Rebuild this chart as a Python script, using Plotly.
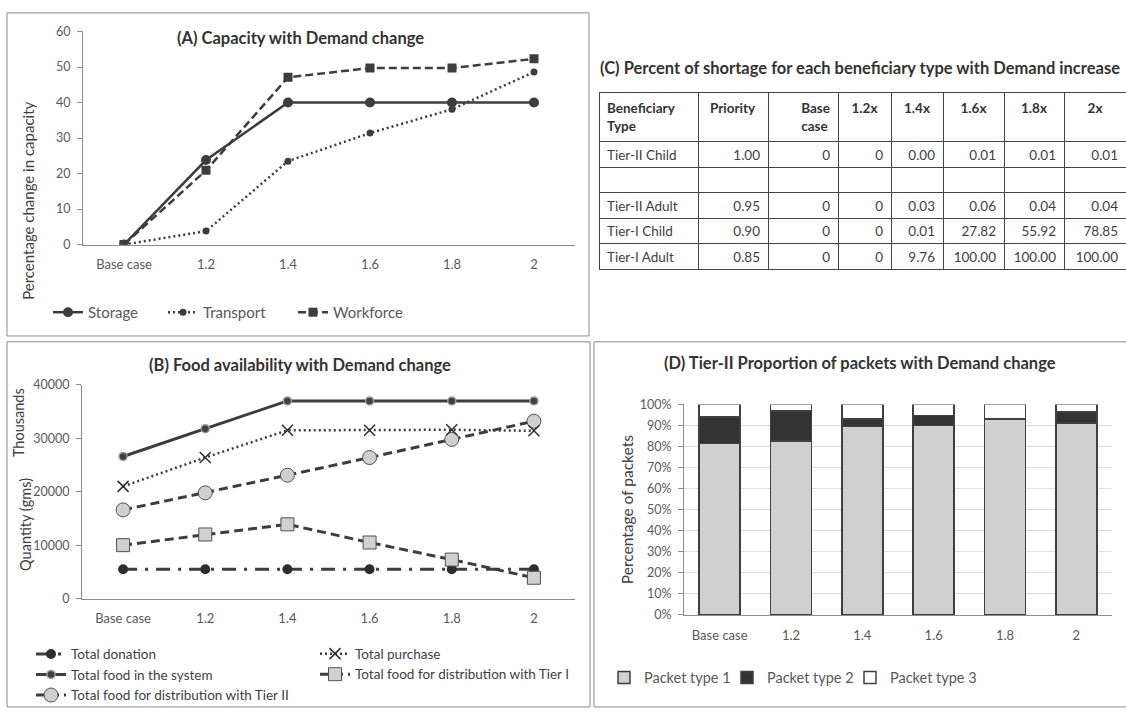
import plotly.graph_objects as go

W, H = 1126, 712


def px(x):
    return x / W


def py(y):
    return 1 - y / H


# ---------------- data ----------------
categories = ["Base case", "1.2", "1.4", "1.6", "1.8", "2"]

# (A) percentage change in capacity
storage = [0, 23.8, 40, 40, 40, 40]
transport = [0, 3.8, 23.5, 31.4, 38.1, 48.6]
workforce = [0, 20.9, 47.1, 49.7, 49.7, 52.3]

# (B) quantity (gms, thousands)
total_donation = [5500, 5500, 5500, 5500, 5500, 5500]
total_purchase = [21000, 26400, 31500, 31500, 31600, 31400]
total_food = [26600, 31800, 37000, 37000, 37000, 37000]
tier1_food = [10000, 12000, 13900, 10500, 7300, 3900]
tier2_food = [16600, 19800, 23100, 26400, 29800, 33200]

# (D) Tier-II proportion of packets (%)
packet1 = [81.5, 82.7, 89.5, 90.0, 93.0, 91.2]
packet2 = [12.5, 14.2, 3.5, 4.7, 0.4, 5.2]
packet3 = [6.0, 3.1, 7.0, 5.3, 6.6, 3.6]

# (C) percent of shortage table
table_header = ["Beneficiary<br>Type", "Priority", "Base<br>case", "1.2x", "1.4x", "1.6x", "1.8x", "2x"]
beneficiary = ["Tier-II Child", "", "Tier-II Adult", "Tier-I Child", "Tier-I Adult"]
priority = [1.00, None, 0.95, 0.90, 0.85]
short_base = [0, None, 0, 0, 0]
short_12 = [0, None, 0, 0, 0]
short_14 = [0.00, None, 0.03, 0.01, 9.76]
short_16 = [0.01, None, 0.06, 27.82, 100.00]
short_18 = [0.01, None, 0.04, 55.92, 100.00]
short_20 = [0.01, None, 0.04, 78.85, 100.00]

# ---------------- styles ----------------
FONT = "Lato"
DARK = "#3d3d3d"
LIGHT = "#d0d0d0"
AXIS = "#8c8c8c"
TICK = "#595959"
TXT = "#404040"

fig = go.Figure()

# ---- panel A ----
fig.add_trace(go.Scatter(x=categories, y=storage, name="Storage", mode="lines+markers",
                         line=dict(color=DARK, width=2.5),
                         marker=dict(symbol="circle", size=10, color=DARK),
                         xaxis="x", yaxis="y", legend="legend", legendwidth=70))
fig.add_trace(go.Scatter(x=categories, y=transport, name="Transport", mode="lines+markers",
                         line=dict(color=DARK, width=2.5, dash="2px,3px"),
                         marker=dict(symbol="circle", size=7, color=DARK),
                         xaxis="x", yaxis="y", legend="legend", legendwidth=85))
fig.add_trace(go.Scatter(x=categories, y=workforce, name="Workforce", mode="lines+markers",
                         line=dict(color=DARK, width=2.5, dash="8px,4px"),
                         marker=dict(symbol="square", size=9, color=DARK),
                         xaxis="x", yaxis="y", legend="legend", legendwidth=90))

# ---- panel B ----
fig.add_trace(go.Scatter(x=categories, y=total_donation, name="Total donation", mode="lines+markers",
                         line=dict(color=DARK, width=3, dash="14px,8px,3px,8px"),
                         marker=dict(symbol="circle", size=10, color="#2e2e2e"),
                         xaxis="x2", yaxis="y2", legend="legend2"))
fig.add_trace(go.Scatter(x=categories, y=total_food, name="Total food in the system", mode="lines+markers",
                         line=dict(color=DARK, width=3),
                         marker=dict(symbol="circle", size=8, color="#404040",
                                     line=dict(color="#9a9a9a", width=1.5)),
                         xaxis="x2", yaxis="y2", legend="legend2"))
fig.add_trace(go.Scatter(x=categories, y=tier2_food, name="Total food for distribution with Tier II",
                         mode="lines+markers",
                         line=dict(color=DARK, width=3, dash="9px,5px"),
                         marker=dict(symbol="circle", size=14, color=LIGHT,
                                     line=dict(color="#505050", width=1)),
                         xaxis="x2", yaxis="y2", legend="legend2"))
fig.add_trace(go.Scatter(x=categories, y=total_purchase, name="Total purchase", mode="lines+markers",
                         line=dict(color=DARK, width=2.5, dash="2px,3px"),
                         marker=dict(symbol="x-thin", size=11, color="#2e2e2e",
                                     line=dict(color="#2e2e2e", width=1.5)),
                         xaxis="x2", yaxis="y2", legend="legend3"))
fig.add_trace(go.Scatter(x=categories, y=tier1_food, name="Total food for distribution with Tier I",
                         mode="lines+markers",
                         line=dict(color=DARK, width=3, dash="9px,5px"),
                         marker=dict(symbol="square", size=13, color=LIGHT,
                                     line=dict(color="#505050", width=1)),
                         xaxis="x2", yaxis="y2", legend="legend3"))

# ---- panel D ----
for vals, nm, col, lw in [(packet1, "Packet type 1", LIGHT, 78),
                          (packet2, "Packet type 2", "#333333", 78),
                          (packet3, "Packet type 3", "#ffffff", 100)]:
    fig.add_trace(go.Bar(x=categories, y=vals, name=nm,
                         marker=dict(color=col, line=dict(color="#404040", width=1.5)),
                         xaxis="x3", yaxis="y3", legend="legend4", legendwidth=lw))


# ---- panel C table ----
def fmt(vals, f):
    return ["" if v is None else format(v, f) for v in vals]


cell_values = [beneficiary, fmt(priority, ".2f"), fmt(short_base, "d"), fmt(short_12, "d"),
               fmt(short_14, ".2f"), fmt(short_16, ".2f"), fmt(short_18, ".2f"), fmt(short_20, ".2f")]
header_vals = ["<br>".join("<b>%s</b>" % p for p in h.split("<br>")) for h in table_header]

fig.add_trace(go.Table(
    domain=dict(x=[px(599), 1.0], y=[py(300), py(86)]),
    columnwidth=[99, 70, 70, 53, 52, 61, 60, 62],
    header=dict(values=header_vals, height=49,
                align=["left", "center", "right", "center", "center", "center", "center", "center"],
                fill_color="white", line=dict(color="#444444", width=1),
                font=dict(family=FONT, size=13.5, color="#333333")),
    cells=dict(values=cell_values, height=25.5,
               align=["left", "right", "right", "right", "right", "right", "right", "right"],
               fill_color="white", line=dict(color="#444444", width=1),
               font=dict(family=FONT, size=13.5, color=TXT)),
))

# ---------------- axes ----------------
tickfont = dict(family=FONT, size=12.5, color=TICK)
xtickfont = dict(family=FONT, size=13, color=TICK)
xcommon = dict(type="category", range=[-0.5, 5.5], showline=True, linecolor=AXIS, linewidth=1,
               ticks="", showgrid=False, zeroline=False, tickfont=xtickfont, ticklabelstandoff=8,
               fixedrange=True)
ycommon = dict(showline=True, linecolor=AXIS, linewidth=1, ticks="outside", ticklen=5,
               tickcolor=AXIS, zeroline=False, tickfont=tickfont, ticklabelstandoff=4,
               fixedrange=True)

fig.update_layout(
    xaxis=dict(domain=[px(83), px(575)], anchor="y", **xcommon),
    yaxis=dict(domain=[py(241.7), py(24)], anchor="x", range=[0, 60], dtick=10,
               showgrid=False, **ycommon),
    xaxis2=dict(domain=[px(82), px(575)], anchor="y2", **xcommon),
    yaxis2=dict(domain=[py(603.3), py(385)], anchor="x2", range=[0, 40000], dtick=10000,
                tickformat="d", showgrid=False, **ycommon),
    xaxis3=dict(domain=[px(684), px(1112)], anchor="y3", **xcommon),
    yaxis3=dict(domain=[py(620), py(405)], anchor="x3", range=[0, 100], dtick=10,
                ticksuffix="%", showgrid=True, gridcolor="#dedede", gridwidth=1, **ycommon),
    barmode="stack",
    bargap=0.425,
)

# ---------------- legends ----------------
fig.update_layout(
    legend=dict(orientation="h", x=px(48), y=py(311), xanchor="left", yanchor="middle",
                font=dict(family=FONT, size=15, color=TICK), bgcolor="rgba(0,0,0,0)",
                traceorder="normal"),
    legend2=dict(orientation="v", x=px(31), y=py(681), xanchor="left", yanchor="middle",
                 font=dict(family=FONT, size=13.5, color=TXT), bgcolor="rgba(0,0,0,0)",
                 traceorder="normal"),
    legend3=dict(orientation="v", x=px(315), y=py(670.5), xanchor="left", yanchor="middle",
                 font=dict(family=FONT, size=13.5, color=TXT), bgcolor="rgba(0,0,0,0)",
                 traceorder="normal"),
    legend4=dict(orientation="h", x=px(604), y=py(684), xanchor="left", yanchor="middle",
                 font=dict(family=FONT, size=14.5, color=TICK), bgcolor="rgba(0,0,0,0)",
                 traceorder="normal"),
)

# ---------------- titles / axis titles ----------------
ann = []


def add_text(x, y, text, size, color, bold=False, angle=0, xanchor="center"):
    ann.append(dict(x=px(x), y=py(y), xref="paper", yref="paper", showarrow=False,
                    text=("<b>%s</b>" % text) if bold else text, textangle=angle,
                    xanchor=xanchor, yanchor="middle",
                    font=dict(family=FONT, size=size, color=color)))


add_text(300, 31, "(A) Capacity with Demand change", 16.5, "#333333", bold=True)
add_text(300, 365, "(B) Food availability with Demand change", 16.5, "#333333", bold=True)
add_text(598, 61, "(C) Percent of shortage for each beneficiary type with Demand increase", 16.5,
         "#333333", bold=True, xanchor="left")
add_text(860, 363, "(D) Tier-II Proportion of packets with Demand change", 16.5, "#333333", bold=True)
add_text(28, 197, "Percentage change in capacity", 15, TXT, angle=-90)
add_text(18, 424, "Thousands", 14.5, TXT, angle=-90)
add_text(26, 528, "Quantity (gms)", 14.5, TXT, angle=-90)
add_text(627, 513, "Percentage of packets", 15.5, TXT, angle=-90)

# panel frames
shapes = []
for x0, y0, x1, y1 in [(7, 5, 589, 335), (7, 341, 590, 714), (594, 341, 1130, 714)]:
    shapes.append(dict(type="rect", xref="paper", yref="paper",
                       x0=px(x0), x1=px(x1), y0=py(y1), y1=py(y0),
                       line=dict(color="#8a8a8a", width=1), fillcolor="rgba(0,0,0,0)"))

fig.update_layout(
    annotations=ann, shapes=shapes,
    width=W, height=H, autosize=False,
    margin=dict(l=0, r=0, t=0, b=0, pad=0),
    paper_bgcolor="white", plot_bgcolor="white",
    showlegend=True,
)

fig.write_html("out.html", config={"displayModeBar": False},
               post_script="document.body.style.margin='0px';document.body.style.overflow='hidden';")
